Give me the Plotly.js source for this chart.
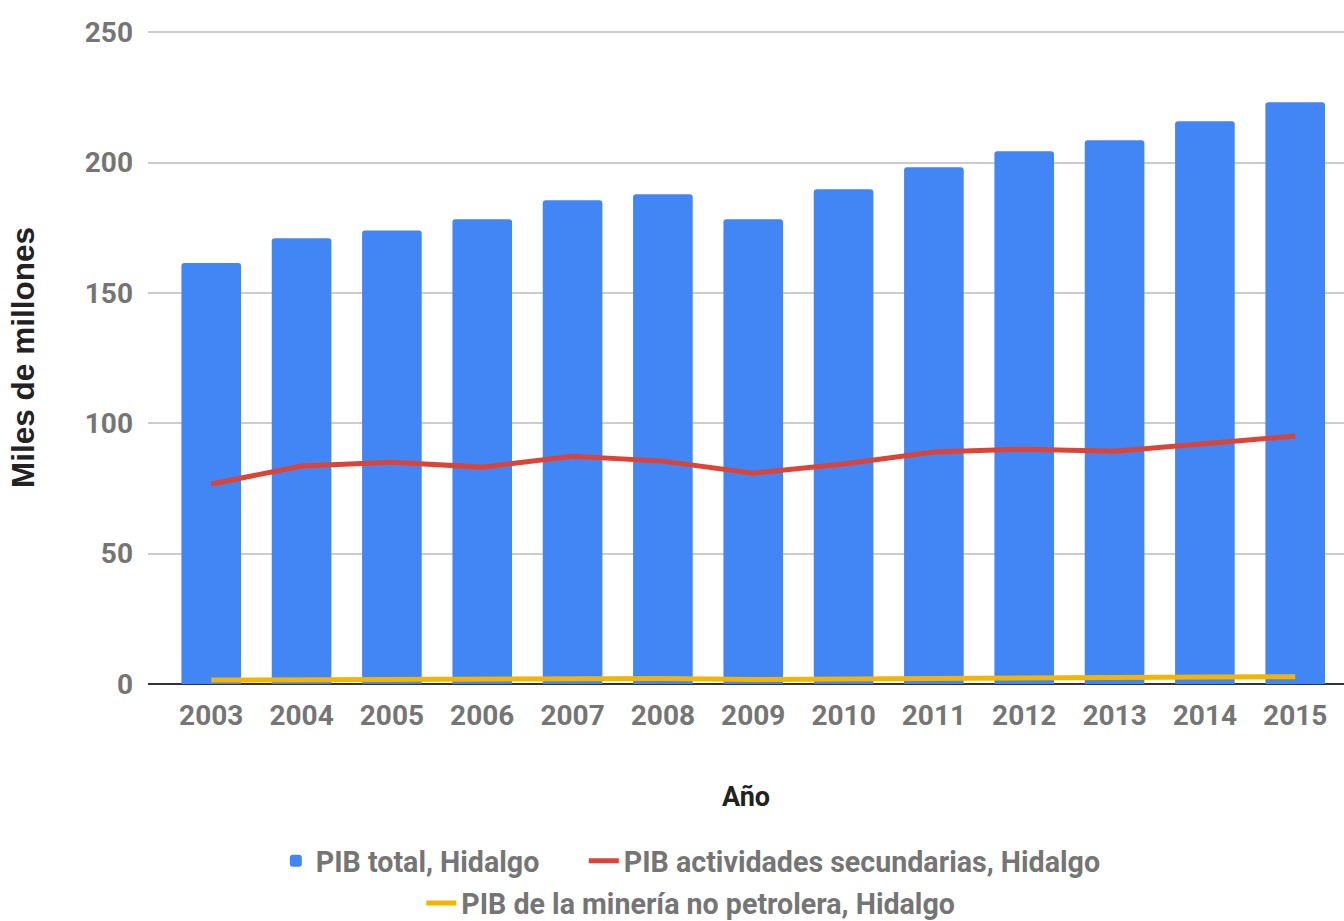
<!DOCTYPE html>
<html>
<head>
<meta charset="utf-8">
<script src="https://cdn.plot.ly/plotly-3.0.1.min.js"></script>
<style>html,body{margin:0;padding:0;background:#fff;}#chart{width:1344px;height:921px;}</style>
</head>
<body>
<div id="chart"></div>
<script>
const years = ["2003","2004","2005","2006","2007","2008","2009","2010","2011","2012","2013","2014","2015"];
const pibTotal = [161.5, 171, 174, 178.3, 185.6, 187.9, 178.3, 189.8, 198.2, 204.4, 208.6, 215.9, 223.2];
const pibSecundarias = [76.7, 83.6, 85.1, 83.2, 87.4, 85.5, 80.9, 84.4, 89.0, 90.1, 89.3, 92.0, 95.1];
const pibMineria = [1.5, 1.7, 1.8, 1.8, 2.0, 2.1, 1.7, 2.0, 2.2, 2.4, 2.5, 2.7, 2.8];
const yTicks = [0, 50, 100, 150, 200, 250];

const gray = "#757575";
const traces = [
  {type: "bar", name: "PIB total, Hidalgo", x: years, y: pibTotal,
   marker: {color: "#4285F4", cornerradius: 3}, width: 0.66, legend: "legend", legendwidth: 263},
  {type: "scatter", mode: "lines", name: "PIB actividades secundarias, Hidalgo", x: years, y: pibSecundarias,
   line: {color: "#DB4437", width: 5}, legend: "legend"},
  {type: "scatter", mode: "lines", name: "PIB de la minería no petrolera, Hidalgo", x: years, y: pibMineria,
   line: {color: "#F4B400", width: 5}, legend: "legend2"}
];

const legendFont = {family: "Roboto", size: 28.6, color: gray, weight: "bold"};
const layout = {
  width: 1344, height: 921,
  margin: {l: 148, r: 0, t: 31, b: 237},
  paper_bgcolor: "#fff", plot_bgcolor: "#fff",
  showlegend: true,
  xaxis: {
    type: "category", range: [-0.7, 12.54],
    tickfont: {family: "Roboto", size: 28, color: gray, weight: "bold"},
    ticks: "", ticklabelstandoff: 12,
    showgrid: false, showline: false, zeroline: false,
    title: {text: "Año", font: {family: "Roboto", size: 27, color: "#222", weight: "bold"}, standoff: 56}
  },
  yaxis: {
    range: [0, 250.5], tickvals: yTicks, ticktext: yTicks.map(String),
    tickfont: {family: "Roboto", size: 28, color: gray, weight: "bold"},
    ticks: "", ticklabelstandoff: 14,
    showgrid: true, gridcolor: "#cccccc", gridwidth: 2,
    zeroline: true, zerolinecolor: "#333333", zerolinewidth: 2,
    title: {text: "Miles de millones", font: {family: "Liberation Sans", size: 31.5, color: "#222", weight: "bold"}, standoff: 40}
  },
  legend: {orientation: "h", xref: "container", yref: "container", x: 0.514, y: 0.065,
           xanchor: "center", yanchor: "middle", font: legendFont, bgcolor: "rgba(0,0,0,0)"},
  legend2: {orientation: "h", xref: "container", yref: "container", x: 0.514, y: 0.019,
            xanchor: "center", yanchor: "middle", font: legendFont, bgcolor: "rgba(0,0,0,0)"},
  bargap: 0.34
};

Plotly.newPlot("chart", traces, layout, {displayModeBar: false, staticPlot: true});
</script>
</body>
</html>
